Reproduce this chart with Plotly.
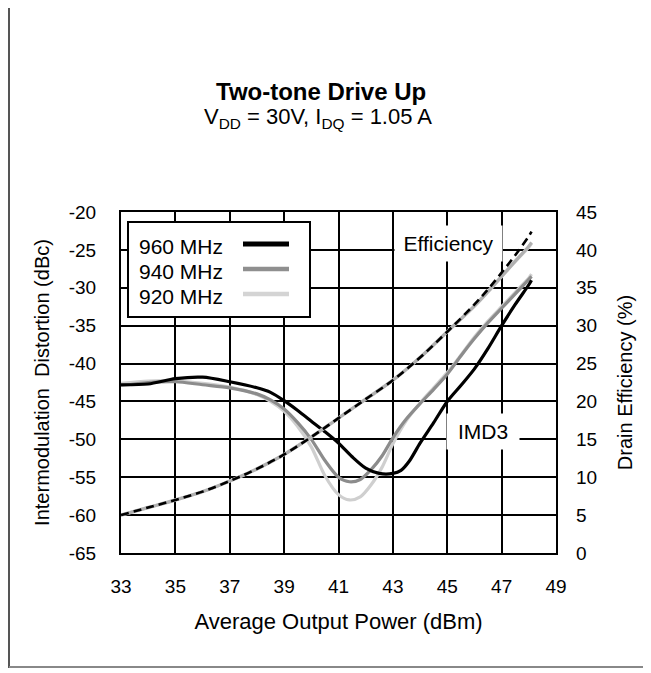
import plotly.graph_objects as go

# ---------------- data ----------------
freq_names = ["960 MHz", "940 MHz", "920 MHz"]
line_colors = ["#000000", "#8c8c8c", "#cfcfcf"]

p_960 = [33, 34, 35, 36, 37, 38, 38.5, 39, 39.5, 40, 40.5, 41, 41.5, 42, 42.5, 43, 43.3, 43.6, 44, 44.5, 45, 45.5, 46, 46.5, 47, 47.5, 48, 48.1]
imd_960 = [-42.8, -42.7, -42.0, -41.8, -42.4, -43.2, -43.8, -44.9, -46.2, -47.6, -49.0, -50.5, -52.3, -53.8, -54.5, -54.5, -54.1, -52.9, -50.5, -47.8, -45.0, -42.9, -40.7, -38.0, -35.0, -32.2, -29.6, -29.0]

p_940 = [33, 34, 35, 36, 37, 38, 38.5, 39, 39.5, 40, 40.5, 41, 41.4, 41.8, 42.2, 42.6, 43, 43.5, 44, 44.5, 45, 45.5, 46, 46.5, 47, 47.5, 48, 48.1]
imd_940 = [-42.9, -42.5, -42.4, -42.8, -43.2, -44.0, -44.8, -46.0, -47.8, -50.0, -52.8, -55.0, -55.6, -55.3, -54.0, -52.2, -49.8, -47.3, -45.3, -43.4, -41.4, -39.0, -36.7, -34.6, -32.7, -30.8, -28.9, -28.5]

p_920 = [33, 34, 35, 36, 37, 38, 38.5, 39, 39.5, 40, 40.5, 41, 41.4, 41.8, 42.2, 42.6, 43, 43.5, 44, 44.5, 45, 45.5, 46, 46.5, 47, 47.5, 48, 48.1]
imd_920 = [-42.6, -42.3, -42.3, -42.6, -43.1, -44.1, -45.0, -46.3, -48.3, -51.0, -54.8, -57.3, -58.0, -57.6, -56.0, -53.7, -50.6, -47.5, -45.2, -43.2, -41.2, -38.9, -36.5, -34.4, -32.5, -30.6, -28.7, -28.2]

p_eff = [33, 34, 35, 36, 37, 38, 39, 40, 41, 42, 43, 44, 45, 46, 46.5, 47, 47.5, 48, 48.1]
eff_960 = [5.0, 6.0, 7.0, 8.1, 9.5, 11.1, 13.0, 15.3, 17.8, 20.3, 22.8, 25.8, 29.2, 32.8, 34.8, 37.0, 39.3, 41.8, 42.4]
eff_940 = [5.0, 6.0, 7.0, 8.1, 9.5, 11.1, 13.0, 15.3, 17.8, 20.3, 22.8, 25.8, 29.2, 32.6, 34.5, 36.5, 38.5, 40.5, 41.0]
eff_920 = [5.0, 6.0, 7.0, 8.1, 9.5, 11.1, 13.0, 15.3, 17.8, 20.3, 22.8, 25.8, 29.2, 32.6, 34.5, 36.5, 38.5, 40.4, 40.9]

x_ticks = [33, 35, 37, 39, 41, 43, 45, 47, 49]
y_ticks = [-20, -25, -30, -35, -40, -45, -50, -55, -60, -65]
y2_ticks = [45, 40, 35, 30, 25, 20, 15, 10, 5, 0]

FONT = "Liberation Sans, Arial, sans-serif"

fig = go.Figure()

# IMD curves (left axis)
imd_sets = [(p_920, imd_920, 2), (p_940, imd_940, 1), (p_960, imd_960, 0)]
for px, py, i in imd_sets:
    fig.add_trace(go.Scatter(x=px, y=py, mode="lines", name=freq_names[i] + " IMD3",
                             line=dict(color=line_colors[i], width=3.2, shape="spline", smoothing=0.8),
                             showlegend=False, yaxis="y"))

# Efficiency curves (right axis)
fig.add_trace(go.Scatter(x=p_eff, y=eff_920, mode="lines", name="920 MHz Eff",
                         line=dict(color="#c8c8c8", width=3.5, shape="spline"), showlegend=False, yaxis="y2"))
fig.add_trace(go.Scatter(x=p_eff, y=eff_940, mode="lines", name="940 MHz Eff",
                         line=dict(color="#b0b0b0", width=3.0, shape="spline"), showlegend=False, yaxis="y2"))
fig.add_trace(go.Scatter(x=p_eff, y=eff_960, mode="lines", name="960 MHz Eff",
                         line=dict(color="#000000", width=2.6, dash="8px,5px", shape="spline"), showlegend=False, yaxis="y2"))

# The page is shown with an 8px body offset; coordinates below are screen pixels.
OFF = 8
L, R, B, T = 121, 556, 553, 212          # plot area in screen pixels
W, H = 651, 673


def px_x(v):
    return (v - L) / (R - L)


def px_y(v):
    return (B - v) / (B - T)


shapes = [dict(type="rect", xref="paper", yref="paper", x0=px_x(128), x1=px_x(310), y0=px_y(317), y1=px_y(222),
               line=dict(color="black", width=2), fillcolor="white", layer="above")]
annotations = []
rows = [246, 271, 296]
sample_colors = ["#000000", "#8f8f8f", "#d4d4d4"]
sample_widths = [5, 4.5, 4.5]
for i, name in enumerate(freq_names):
    annotations.append(dict(x=px_x(137), y=px_y(rows[i]), xref="paper", yref="paper", text=name, showarrow=False,
                            xanchor="left", yanchor="middle", font=dict(family=FONT, size=21, color="black")))
    shapes.append(dict(type="line", xref="paper", yref="paper", x0=px_x(243), x1=px_x(289),
                       y0=px_y(rows[i] - 2), y1=px_y(rows[i] - 2),
                       line=dict(color=sample_colors[i], width=sample_widths[i]), layer="above"))

# outer page border lines (left and bottom)
shapes.append(dict(type="line", xref="paper", yref="paper", x0=px_x(9), x1=px_x(9), y0=px_y(668), y1=px_y(0),
                   line=dict(color="#555555", width=2), layer="above"))
shapes.append(dict(type="line", xref="paper", yref="paper", x0=px_x(9), x1=px_x(W + OFF), y0=px_y(667), y1=px_y(667),
                   line=dict(color="#888888", width=2), layer="above"))

# curve labels with white background
annotations.append(dict(x=45.03, y=-24.2, xref="x", yref="y", text="Efficiency", showarrow=False, width=95,
                        font=dict(family=FONT, size=21, color="black"), bgcolor="white", borderpad=6))
annotations.append(dict(x=46.31, y=-48.9, xref="x", yref="y", text="IMD3", showarrow=False, width=60,
                        font=dict(family=FONT, size=21, color="black"), bgcolor="white", borderpad=6))

# titles
annotations.append(dict(x=px_x(321), y=px_y(76), xref="paper", yref="paper", text="<b>Two-tone Drive Up</b>",
                        showarrow=False, font=dict(family=FONT, size=24, color="black")))
annotations.append(dict(x=px_x(318), y=px_y(102), xref="paper", yref="paper",
                        text="V<sub>DD</sub> = 30V, I<sub>DQ</sub> = 1.05 A",
                        showarrow=False, font=dict(family=FONT, size=22, color="black")))

fig.update_layout(
    width=W, height=H,
    margin=dict(l=L - OFF, r=W - (R - OFF), t=T - OFF, b=H - (B - OFF), autoexpand=False),
    paper_bgcolor="white", plot_bgcolor="white",
    font=dict(family=FONT, size=19, color="black"),
    shapes=shapes, annotations=annotations,
    xaxis=dict(range=[33, 49], tickvals=x_ticks, ticktext=[str(v) for v in x_ticks],
               showgrid=True, gridcolor="black", gridwidth=2,
               showline=True, linecolor="black", linewidth=2, mirror=True,
               zeroline=False, ticks="", ticklabelstandoff=15,
               title=dict(text="Average Output Power (dBm)", font=dict(size=22), standoff=18),
               tickfont=dict(size=19)),
    yaxis=dict(range=[-65, -20], tickvals=y_ticks, ticktext=[str(v) for v in y_ticks],
               showgrid=True, gridcolor="black", gridwidth=2,
               showline=True, linecolor="black", linewidth=2, mirror=True,
               zeroline=False, ticks="", ticklabelstandoff=19,
               title=dict(text="Intermodulation&nbsp;&nbsp;Distortion (dBc)", font=dict(size=20), standoff=14),
               tickfont=dict(size=19)),
    yaxis2=dict(range=[0, 45], tickvals=y2_ticks, ticktext=[str(v) for v in y2_ticks],
                overlaying="y", side="right", showgrid=False, zeroline=False, ticks="",
                ticklabelstandoff=19,
                title=dict(text="Drain Efficiency (%)", font=dict(size=20), standoff=21),
                tickfont=dict(size=19)),
)

fig.write_html("out.html")
